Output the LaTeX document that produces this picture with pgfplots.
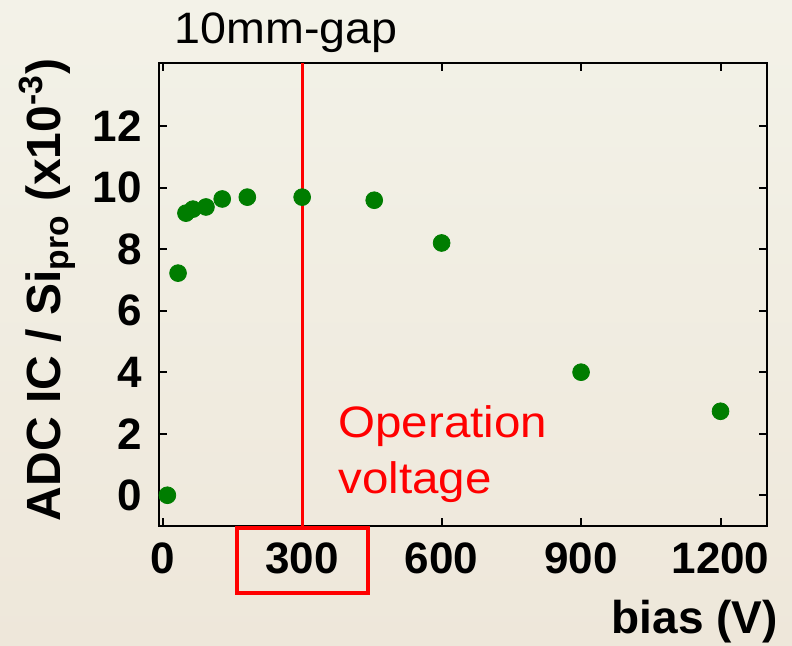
\documentclass[border=0pt]{standalone}
\usepackage{pgfplots}
\pgfplotsset{compat=1.18}
\usepackage{fontspec}
\setmainfont{Liberation Sans}
\definecolor{ptgreen}{RGB}{0,125,0}
\definecolor{bgtop}{RGB}{243,242,232}
\definecolor{bgbot}{RGB}{238,231,218}
\begin{document}
\begin{tikzpicture}[x=1pt,y=1pt]
\useasboundingbox (0,0) rectangle (396,322.5);
\shade[top color=bgtop,bottom color=bgbot] (0,0) rectangle (396,322.5);
\begin{axis}[
 at={(79.5pt,59.5pt)}, anchor=south west,
 scale only axis, width=304pt, height=231.5pt,
 xmin=-8, xmax=1300, ymin=-1, ymax=14.05,
 xtick={0,300,600,900,1200}, ytick={0,2,...,12},
 tick align=inside, major tick length=4pt,
 every tick/.style={black, line width=1pt},
 axis line style={line width=1pt},
 /pgf/number format/assume math mode=true,
 ticklabel style={font=\fontsize{22}{24}\selectfont\bfseries},
 xticklabel style={yshift=-5pt},
 yticklabel style={xshift=-5pt},
 scaled ticks=false,
 /pgf/number format/1000 sep={},
 clip=false,
]
\addplot[only marks, mark=*, mark size=4.2pt, ptgreen, mark options={draw=ptgreen, fill=ptgreen}] coordinates {
(10,0) (33,7.22) (50,9.17) (65,9.3) (93,9.37) (128,9.63) (182,9.69) (300,9.69) (455,9.59) (600,8.2) (900,4.0) (1200,2.73)
};
\draw[red, line width=1.5pt] (axis cs:300,-1) -- (axis cs:300,14.05);
\end{axis}
\draw[red, line width=2pt] (118.5,26) rectangle (184,58.5);
\node[anchor=base, font=\fontsize{22}{24}\selectfont, xscale=1.06] at (143,301) {10mm-gap};
\node[anchor=base west, inner sep=0pt, font=\fontsize{22}{24}\selectfont, text=red, xscale=1.08] at (169,104) {Operation};
\node[anchor=base west, inner sep=0pt, font=\fontsize{22}{24}\selectfont, text=red, xscale=1.08] at (169,76) {voltage};
\node[anchor=base east, font=\fontsize{23}{25}\selectfont\bfseries] at (392.5,6) {bias (V)};
\node[rotate=90, font=\fontsize{24}{26}\selectfont\bfseries] at (23.5,177.5) {ADC IC / Si\textsubscript{pro} (x10\textsuperscript{-3})};
\end{tikzpicture}
\end{document}
